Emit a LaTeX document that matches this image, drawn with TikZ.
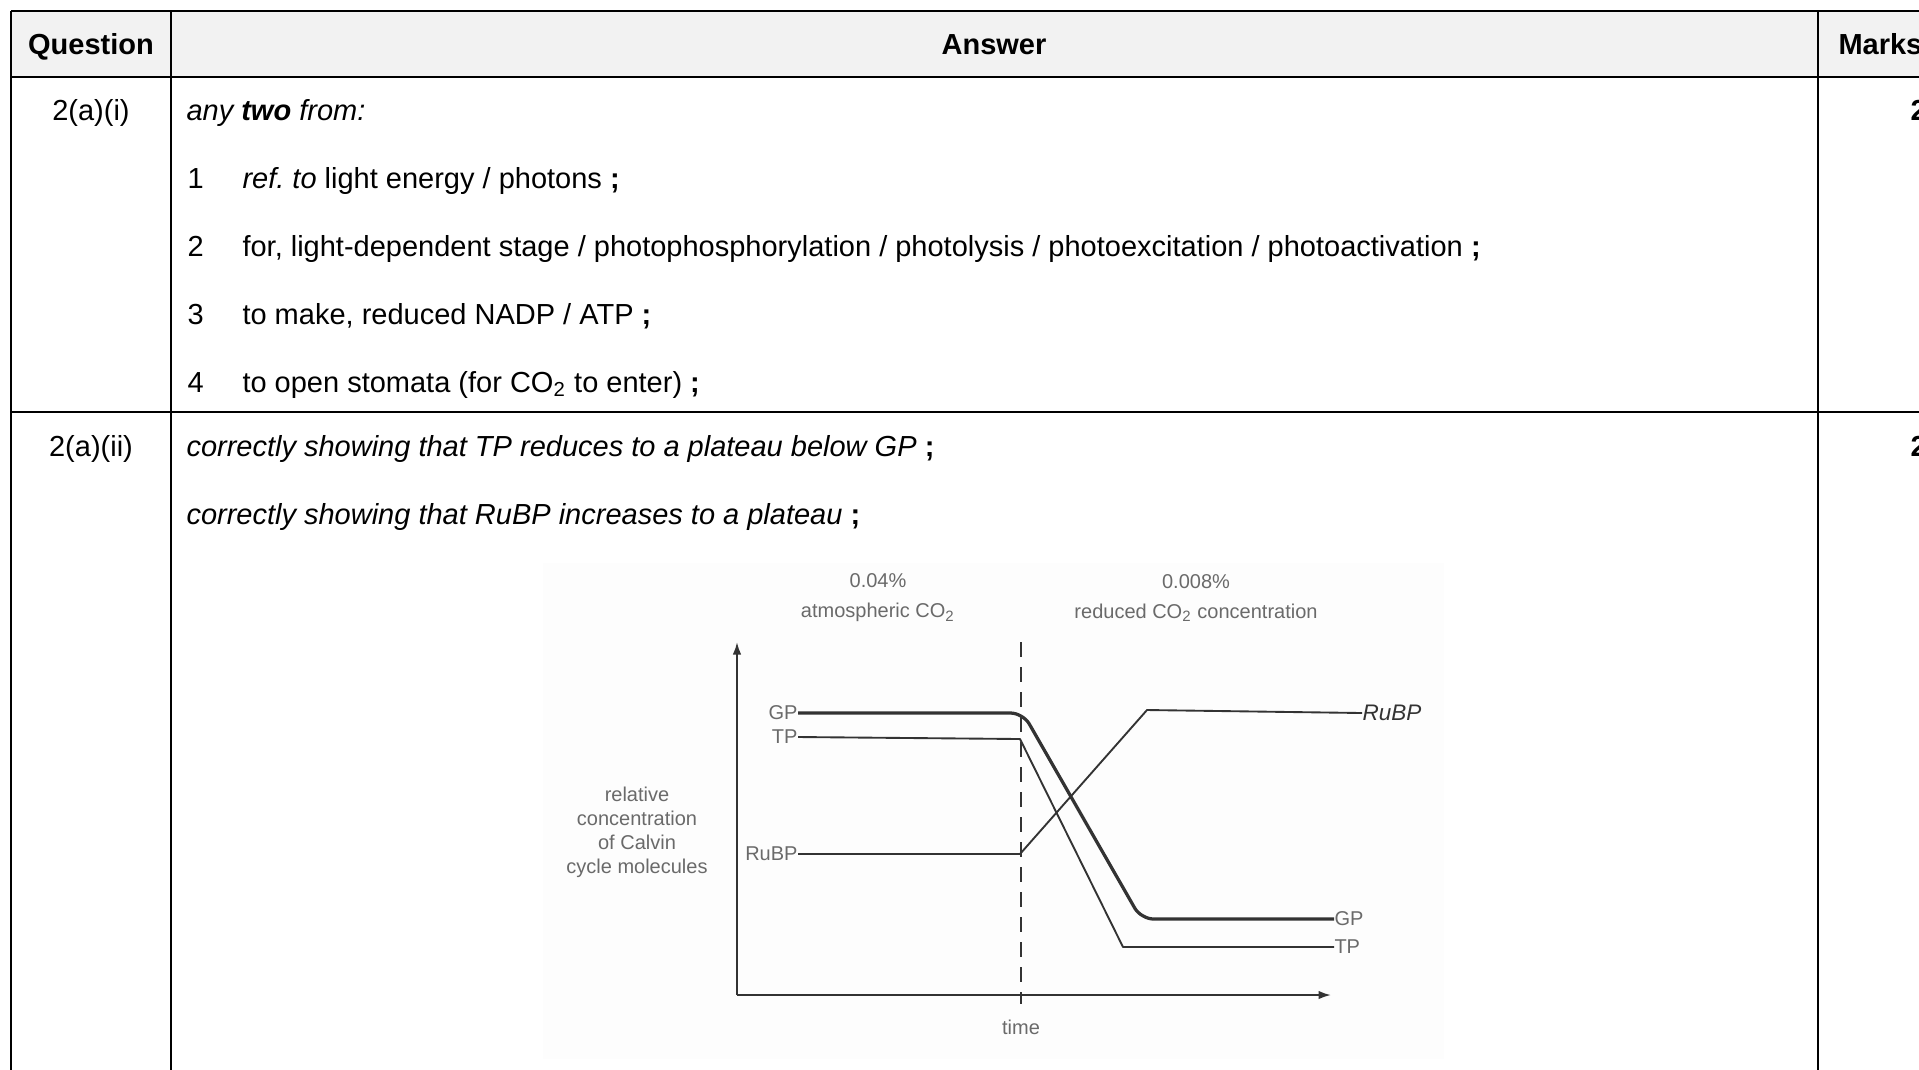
\documentclass[tikz,border=0pt]{standalone}
\usepackage{fontspec}
\setmainfont{Liberation Sans}
\usepackage{xcolor}
\usetikzlibrary{positioning, arrows.meta}
\frenchspacing
\definecolor{headgray}{HTML}{F2F2F2}
\definecolor{scan}{HTML}{FDFDFD}
\definecolor{ink}{HTML}{333333}
\definecolor{print}{HTML}{6A6A6A}
\tikzset{rule/.style={line width=0.9pt}, thinrule/.style={line width=0.45pt},
	body/.style={inner sep=0pt, font=\fontsize{11.6}{14}\selectfont},
	txt/.style={body, anchor=base west},
	head/.style={body, anchor=base, font=\fontsize{11.6}{14}\selectfont\bfseries},
	qcell/.style={body, anchor=base},
	graphtext/.style={inner sep=0pt, text=print, font=\fontsize{8}{12}\selectfont},
	curve/.style={ink, line width=0.75pt, line join=round},
	axis/.style={ink, line width=0.75pt, -{Latex[length=5pt, width=3.4pt]}}}

\begin{document}
\begin{tikzpicture}[x=0.4pt, y=-0.4pt]
	\useasboundingbox (0,0) rectangle (1919,1069);
	% table
	\fill[headgray] (11,11) rectangle (1930,77);
	\draw[thinrule] (11,11) -- (1930,11) (171,11) -- (171,77) (1818,11) -- (1818,77);
	\draw[rule] (11,11) -- (11,1075) (171,77) -- (171,1075) (1818,77) -- (1818,1075);
	\draw[rule] (11,77) -- (1930,77) (11,412) -- (1930,412);
	\node[head] (Question) at (91,54) {Question};
	\node[head] (Answer) at (994,54) {Answer};
	\node[head, anchor=base west] (Marks) at (1838,54) {Marks};
	% row 2(a)(i)
	\node[qcell] (Q1) at (91,120) {2(a)(i)};
	\node[txt] (Any) at (186,120) {\itshape any \textbf{two} from:};
	\node[txt] (N1) at (187,188) {1};
	\node[txt] (Item1) at (242,188) {\textit{ref. to} light energy / photons \textbf{;}};
	\node[txt] (N2) at (187,256) {2};
	\node[txt] (Item2) at (242,256) {for, light-dependent stage / photophosphorylation / photolysis / photoexcitation / photoactivation \textbf{;}};
	\node[txt] (N3) at (187,324) {3};
	\node[txt] (Item3) at (242,324) {to make, reduced NADP / ATP \textbf{;}};
	\node[txt] (N4) at (187,392) {4};
	\node[txt] (Item4) at (242,392) {to open stomata (for CO\textsubscript{2} to enter) \textbf{;}};
	\node[txt, font=\fontsize{11.6}{14}\selectfont\bfseries] (M1) at (1910,120) {2};
	% row 2(a)(ii)
	\node[qcell] (Q2) at (91,456) {2(a)(ii)};
	\node[txt] (Plateau TP) at (186,456) {\itshape correctly showing that TP reduces to a plateau below GP \upshape\textbf{;}};
	\node[txt] (Plateau RuBP) at (186,524) {\itshape correctly showing that RuBP increases to a plateau \upshape\textbf{;}};
	\node[txt, font=\fontsize{11.6}{14}\selectfont\bfseries] (M2) at (1910,456) {2};
	% graph
	\fill[scan] (543,563) rectangle (1444,1059);
	\coordinate (O) at (737,995);
	\coordinate (Y end) at (737,642);
	\coordinate (X end) at (1331,995);
	\coordinate (Cut top) at (1021,642);
	\coordinate (Cut bottom) at (1021,1004);
	\draw[axis] (O) -- (Y end);
	\draw[axis] (O) -- (X end);
	\draw[ink, line width=0.6pt, dash pattern=on 6pt off 4pt] (Cut top) -- (Cut bottom);
	\node[graphtext, align=center] (Atmos) at (878,598) {0.04\%\\atmospheric CO\textsubscript{2}};
	\node[graphtext, align=center] (Reduced) at (1196,598) {0.008\%\\reduced CO\textsubscript{2} concentration};
	\node[graphtext, align=center, font=\fontsize{8}{9.6}\selectfont] (Ylabel) at (637,832) {relative\\concentration\\of Calvin\\cycle molecules};
	\node[graphtext] (Time) at (1021,1027) {time};
	\node[graphtext, anchor=east] (GP left) at (798,713) {GP};
	\node[graphtext, anchor=east] (TP left) at (798,737) {TP};
	\node[graphtext, anchor=east] (RuBP left) at (798,854) {RuBP};
	\node[graphtext, anchor=west] (GP right) at (1334,919) {GP};
	\node[graphtext, anchor=west] (TP right) at (1334,947) {TP};
	\node[graphtext, anchor=west, text=ink, font=\fontsize{9}{10}\selectfont\itshape] (RuBP right) at (1362,713) {RuBP};
	\draw[curve, line width=1.3pt, rounded corners=5pt] (GP left.east) -- (1023,713) -- (1141,919) -- (GP right.west);
	\draw[curve] (TP left.east) -- (1020,739) -- (1123,947) -- (TP right.west);
	\draw[curve] (RuBP left.east) -- (1020,854) -- (1147,710) -- (RuBP right.west);
\end{tikzpicture}
\end{document}
